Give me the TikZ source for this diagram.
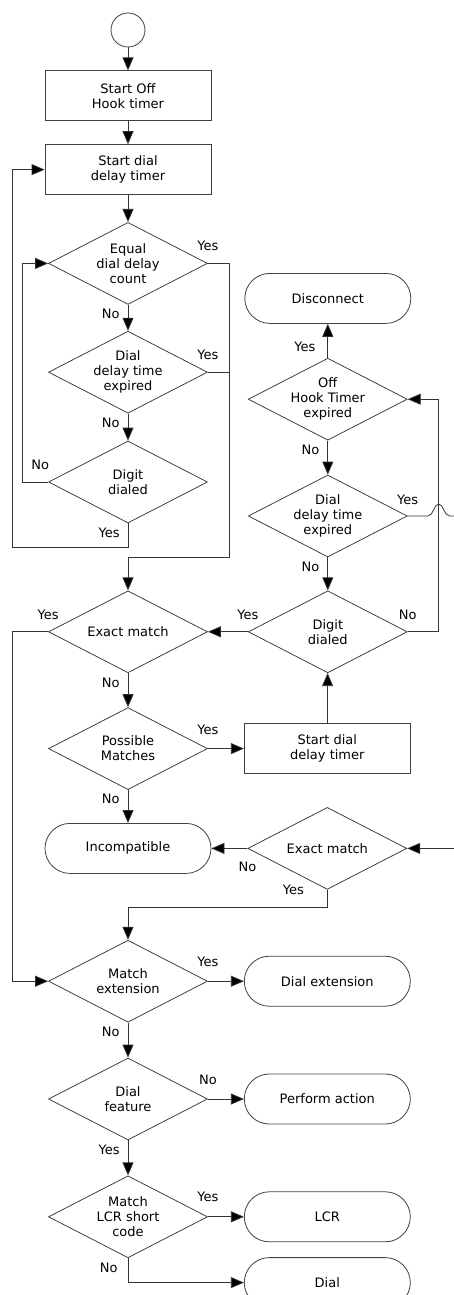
\documentclass[tikz,border=0pt]{standalone}
\usepackage{fontspec}
\setmainfont{DejaVu Sans}
\usetikzlibrary{shapes,arrows.meta,positioning,calc}

\begin{document}
\begin{tikzpicture}[
    node distance=1cm,
    every node/.style={font=\fontsize{13}{15}\selectfont},
    startnode/.style={circle, draw=black!75, line width=0.8pt, minimum size=34pt, inner sep=0pt},
    process/.style={rectangle, draw=black!75, line width=0.8pt, minimum width=166pt, minimum height=50pt, align=center},
    terminal/.style={rectangle, rounded corners=25pt, draw=black!75, line width=0.8pt, minimum width=166pt, minimum height=50pt, align=center},
    decision/.style={diamond, aspect=1.94, draw=black!75, line width=0.8pt, minimum width=159pt, minimum height=82pt, inner sep=0pt, align=center},
    arrow/.style={draw=black!80, line width=0.8pt, -{Triangle[width=11pt,length=13pt,fill=black]}},
    line/.style={draw=black!80, line width=0.8pt},
    lbl/.style={inner sep=1pt}
]
    \useasboundingbox (0,0) rectangle (454pt,-1295pt);

    % Main column
    \node[startnode] (start) at (128pt,-30pt) {};
    \node[process, below=23pt of start] (offhook) {Start Off\\Hook timer};
    \node[process, below=23pt of offhook] (dialtimer) {Start dial\\delay timer};
    \node[decision, below=27pt of dialtimer] (equal) {Equal\\dial delay\\count};
    \node[decision, below=26pt of equal] (delay) {Dial\\delay time\\expired};
    \node[decision, below=27pt of delay] (digit) {Digit\\dialed};
    \node[decision, below=67pt of digit] (exact) {Exact match};
    \node[decision, below=34pt of exact] (possible) {Possible\\Matches};
    \node[terminal, below=33pt of possible] (incompat) {Incompatible};
    \node[decision, below=66pt of incompat] (matchext) {Match\\extension};
    \node[decision, below=35pt of matchext] (feature) {Dial\\feature};
    \node[decision, below=35pt of feature] (lcrcode) {Match\\LCR short\\code};

    % Right column
    \node[decision, right=40pt of exact] (digitb) {Digit\\dialed};
    \node[decision, above=33pt of digitb] (delayb) {Dial\\delay time\\expired};
    \node[decision, above=34pt of delayb] (hooktimer) {Off\\Hook Timer\\expired};
    \node[terminal, above=34pt of hooktimer] (disconnect) {Disconnect};
    \node[process, right=36pt of possible] (dialtimerb) {Start dial\\delay timer};
    \node[decision, right=36pt of incompat] (exactb) {Exact match};
    \node[terminal, right=36pt of matchext] (dialext) {Dial extension};
    \node[terminal, right=36pt of feature] (perform) {Perform action};
    \node[terminal, right=36pt of lcrcode] (lcr) {LCR};
    \node[terminal, below=15pt of lcr] (dial) {Dial};

    % Helper points
    \coordinate (rail) at ([xshift=21pt]equal.east);
    \coordinate (railb) at (delay.east -| rail);
    \coordinate (merge) at ([yshift=33pt]exact.north);
    \coordinate (mergeb) at ([yshift=32pt]matchext.north);
    \coordinate (rv) at ([xshift=31pt]digitb.east);
    \coordinate (jmp) at (rv |- delayb.east);
    \coordinate (outR) at ([xshift=52pt]delayb.east);
    \coordinate (inR) at ([xshift=52pt]exactb.east);

    % Dial delay loop
    \draw[arrow] (start) -- (offhook);
    \draw[arrow] (offhook) -- (dialtimer);
    \draw[arrow] (dialtimer) -- (equal);
    \draw[arrow] (equal) -- node[lbl, pos=0, below left=3pt and 7pt] (equalno) {No} (delay);
    \draw[arrow] (delay) -- node[lbl, pos=0, below left=3pt and 7pt] (delayno) {No} (digit);
    \draw[arrow] (digit.west) -- node[lbl, pos=0.3, above=11pt] (digitno) {No} ++(-26pt,0) |- (equal.west);
    \draw[arrow] (digit.south) -- node[lbl, pos=0, below left=3pt and 7pt] (digityes) {Yes} ++(0,-24pt) -| ([xshift=-32pt]dialtimer.west) -- (dialtimer.west);
    \draw[arrow] (equal.east) -- node[lbl, pos=0, above=11pt] (equalyes) {Yes} (rail) |- (merge) -- (exact.north);
    \draw[line] (delay.east) -- node[lbl, pos=0, above=11pt] (delayyes) {Yes} (railb);

    % Off hook side
    \draw[arrow] (hooktimer) -- node[lbl, pos=0, above left=5pt and 11pt] (hookyes) {Yes} (disconnect);
    \draw[arrow] (hooktimer) -- node[lbl, pos=0, below left=3pt and 7pt] (hookno) {No} (delayb);
    \draw[arrow] (delayb) -- node[lbl, pos=0, below left=3pt and 7pt] (delaybno) {No} (digitb);
    \draw[line] (delayb.east) -- node[lbl, pos=0, above=10pt] (delaybyes) {Yes} ([xshift=-11pt]jmp)
        .. controls +(6pt,0) and +(-5pt,0) .. ([yshift=12pt]jmp)
        .. controls +(5pt,0) and +(-6pt,0) .. ([xshift=11pt]jmp) -- (outR);
    \draw[arrow] (digitb.east) -- node[lbl, pos=0, above=11pt] (digitbno) {No} (rv) |- (hooktimer.east);
    \draw[arrow] (digitb) -- node[lbl, pos=0, above=11pt] (digitbyes) {Yes} (exact);
    \draw[arrow] (dialtimerb) -- (digitb);

    % Matching
    \draw[arrow] (exact.west) -- node[lbl, pos=0, above=11pt] (exactyes) {Yes} ++(-36pt,0) |- (matchext.west);
    \draw[arrow] (exact) -- node[lbl, pos=0, below left=3pt and 7pt] (exactno) {No} (possible);
    \draw[arrow] (possible) -- node[lbl, pos=0, above=13pt] (possyes) {Yes} (dialtimerb);
    \draw[arrow] (possible) -- node[lbl, pos=0, below left=3pt and 7pt] (possno) {No} (incompat);
    \draw[arrow] (inR) -- (exactb);
    \draw[arrow] (exactb) -- node[lbl, pos=0, below=12pt] (exactbno) {No} (incompat);
    \draw[arrow] (exactb.south) |- node[lbl, pos=0, left=22pt] (exactbyes) {Yes} (mergeb) -- (matchext.north);

    % Dialling
    \draw[arrow] (matchext) -- node[lbl, pos=0, above=13pt] (extyes) {Yes} (dialext);
    \draw[arrow] (matchext) -- node[lbl, pos=0, below left=3pt and 7pt] (extno) {No} (feature);
    \draw[arrow] (feature) -- node[lbl, pos=0, above=13pt] (featno) {No} (perform);
    \draw[arrow] (feature) -- node[lbl, pos=0, below left=3pt and 7pt] (featyes) {Yes} (lcrcode);
    \draw[arrow] (lcrcode) -- node[lbl, pos=0, above=14pt] (lcryes) {Yes} (lcr);
    \draw[arrow] (lcrcode.south) |- node[lbl, pos=0, below left=3pt and 9pt] (lcrno) {No} (dial.west);

\end{tikzpicture}
\end{document}
